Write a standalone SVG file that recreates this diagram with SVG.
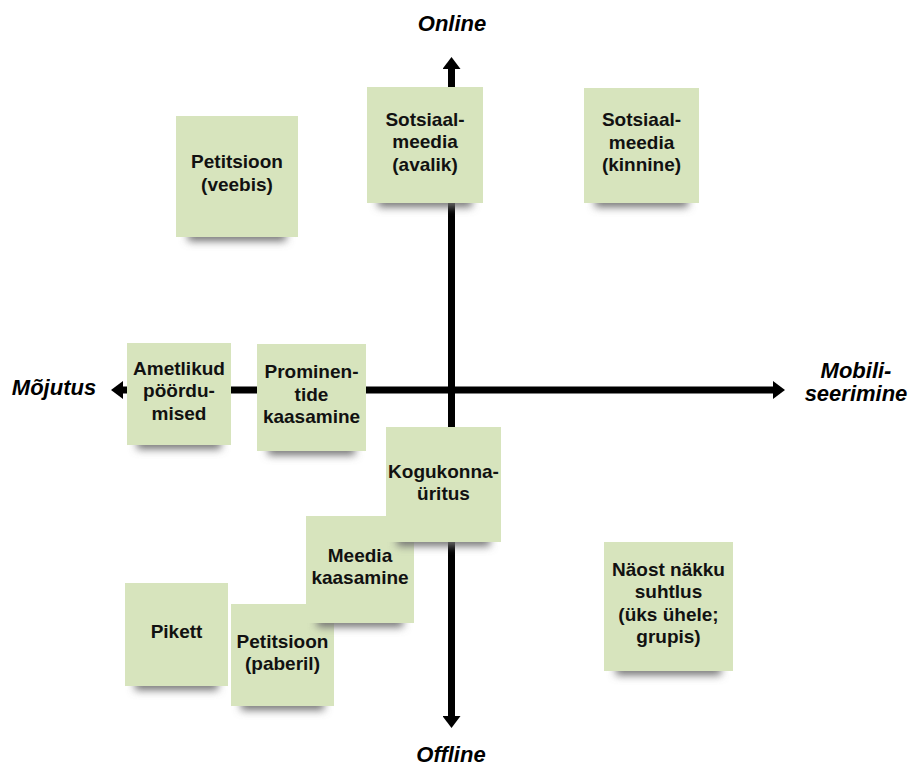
<svg xmlns="http://www.w3.org/2000/svg" width="908" height="767" viewBox="0 0 908 767">
  <style>
    .note { fill: #d7e4bd; }
    .shadow { fill: #707070; filter: url(#blur); }
    .nt { font-family: "Liberation Sans", Arial, sans-serif; font-weight: bold; font-size: 19px; fill: #111; text-anchor: middle; }
    .ax { font-family: "Liberation Sans", Arial, sans-serif; font-weight: bold; font-style: italic; font-size: 22px; fill: #000; text-anchor: middle; }
    .axis { stroke: #000; stroke-width: 7; fill: none; }
  </style>
  <defs>
    <filter id="blur" x="-20%" y="-100%" width="140%" height="300%">
      <feGaussianBlur stdDeviation="4"/>
    </filter>
    <marker id="head" markerUnits="userSpaceOnUse" markerWidth="12" markerHeight="18" refX="2" refY="9" orient="auto" viewBox="0 0 12 18">
      <path d="M0,0 L12,9 L0,18 Z" fill="#000"/>
    </marker>
  </defs>
  <rect width="908" height="767" fill="#fff"/>

  <g id="connectors">
    <path class="axis" d="M451.5,390 L451.5,67" marker-end="url(#head)"/>
    <path class="axis" d="M451.5,390 L451.5,718" marker-end="url(#head)"/>
    <path class="axis" d="M451.5,390 L121,390" marker-end="url(#head)"/>
    <path class="axis" d="M451.5,390 L775,390" marker-end="url(#head)"/>
  </g>

  <g id="labels">
    <text class="ax" x="452" y="31">Online</text>
    <text class="ax" x="451" y="762">Offline</text>
    <text class="ax" x="54" y="395">Mõjutus</text>
    <text class="ax" x="856" y="378">Mobili-</text>
    <text class="ax" x="856" y="401">seerimine</text>
  </g>

  <g id="petitsioon-veebis">
    <rect class="shadow" x="188" y="229" width="98" height="12"/>
    <rect class="note" x="176" y="116" width="122" height="121"/>
    <text class="nt" x="237" y="168">Petitsioon</text>
    <text class="nt" x="237" y="190.5">(veebis)</text>
  </g>

  <g id="sotsiaalmeedia-avalik">
    <rect class="shadow" x="378" y="195" width="94" height="12"/>
    <rect class="note" x="367" y="87" width="116" height="116"/>
    <text class="nt" x="425" y="125.5">Sotsiaal-</text>
    <text class="nt" x="425" y="148">meedia</text>
    <text class="nt" x="425" y="170.5">(avalik)</text>
  </g>

  <g id="sotsiaalmeedia-kinnine">
    <rect class="shadow" x="595" y="195" width="93" height="12"/>
    <rect class="note" x="584" y="88" width="115" height="115"/>
    <text class="nt" x="641.5" y="126">Sotsiaal-</text>
    <text class="nt" x="641.5" y="148.5">meedia</text>
    <text class="nt" x="641.5" y="171">(kinnine)</text>
  </g>

  <g id="ametlikud-poordumised">
    <rect class="shadow" x="137" y="437" width="84" height="12"/>
    <rect class="note" x="127" y="343" width="104" height="102"/>
    <text class="nt" x="179" y="374.5">Ametlikud</text>
    <text class="nt" x="179" y="397">pöördu-</text>
    <text class="nt" x="179" y="419.5">mised</text>
  </g>

  <g id="prominentide-kaasamine">
    <rect class="shadow" x="268" y="443" width="87" height="12"/>
    <rect class="note" x="257" y="344" width="109" height="107"/>
    <text class="nt" x="311.5" y="378">Prominen-</text>
    <text class="nt" x="311.5" y="400.5">tide</text>
    <text class="nt" x="311.5" y="423">kaasamine</text>
  </g>

  <g id="pikett">
    <rect class="shadow" x="135" y="678" width="83" height="12"/>
    <rect class="note" x="125" y="583" width="103" height="103"/>
    <text class="nt" x="176.5" y="638">Pikett</text>
  </g>

  <g id="petitsioon-paberil">
    <rect class="shadow" x="241" y="698" width="83" height="12"/>
    <rect class="note" x="231" y="604" width="103" height="102"/>
    <text class="nt" x="282.5" y="647.5">Petitsioon</text>
    <text class="nt" x="282.5" y="670">(paberil)</text>
  </g>

  <g id="meedia-kaasamine">
    <rect class="shadow" x="317" y="615" width="86" height="12"/>
    <rect class="note" x="306" y="516" width="108" height="107"/>
    <text class="nt" x="360" y="561.5">Meedia</text>
    <text class="nt" x="360" y="584">kaasamine</text>
  </g>

  <g id="kogukonnauritus">
    <rect class="shadow" x="397" y="534" width="93" height="12"/>
    <rect class="note" x="386" y="427" width="115" height="115"/>
    <text class="nt" x="443.5" y="477.5">Kogukonna-</text>
    <text class="nt" x="443.5" y="500">üritus</text>
  </g>

  <g id="naost-nakku">
    <rect class="shadow" x="616" y="663" width="105" height="12"/>
    <rect class="note" x="604" y="542" width="129" height="129"/>
    <text class="nt" x="668.5" y="575.5">Näost näkku</text>
    <text class="nt" x="668.5" y="598">suhtlus</text>
    <text class="nt" x="668.5" y="620.5">(üks ühele;</text>
    <text class="nt" x="668.5" y="643">grupis)</text>
  </g>
</svg>
